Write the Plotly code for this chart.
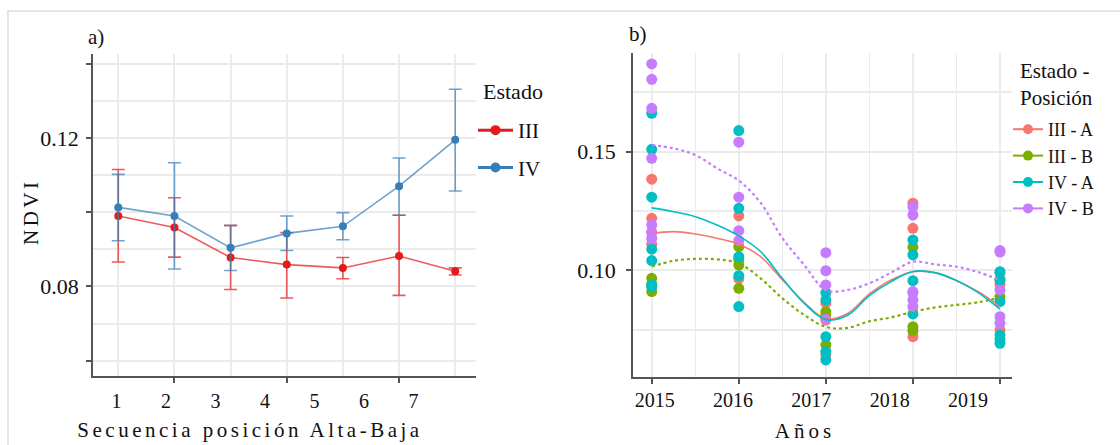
import plotly.graph_objects as go

W, H = 1120, 445
def fx(p):
    return p / W
def fy(p):
    return 1 - p / H

FONT = "Liberation Serif, Times New Roman, serif"

# ---------------- Panel a data ----------------
pos_a = [1, 2, 3, 4, 5, 6, 7]
pos_labels_a = ["1", "2", "3", "4", "5", "6", "7"]
estado = ["III", "IV"]
iii_mean = [0.0990, 0.0959, 0.0878, 0.0859, 0.0850, 0.0882, 0.0841]
iii_upper = [0.1115, 0.1039, 0.0964, 0.0945, 0.0878, 0.0992, 0.0850]
iii_lower = [0.0866, 0.0879, 0.0792, 0.0769, 0.0821, 0.0776, 0.0831]
iv_mean = [0.1013, 0.0990, 0.0904, 0.0943, 0.0962, 0.1070, 0.1195]
iv_upper = [0.1102, 0.1133, 0.0965, 0.0990, 0.0999, 0.1146, 0.1331]
iv_lower = [0.0923, 0.0847, 0.0843, 0.0897, 0.0926, 0.0992, 0.1057]
yticks_a = [0.06, 0.08, 0.10, 0.12, 0.14]
yticklabels_a = ["", "0.08", "", "0.12", ""]

# ---------------- Panel b data ----------------
years = [2015, 2016, 2017, 2018, 2019]
year_labels = ["2015", "2016", "2017", "2018", "2019"]
groups = ["III - A", "III - B", "IV - A", "IV - B"]
pts_iii_a = {2015: [0.1384, 0.1219, 0.1160, 0.1110], 2016: [0.1229, 0.0965],
             2017: [0.0862, 0.0790, 0.0643], 2018: [0.1283, 0.1177, 0.0905, 0.0720],
             2019: [0.0988, 0.0940, 0.0748]}
pts_iii_b = {2015: [0.0966, 0.0940, 0.0910], 2016: [0.1100, 0.1045, 0.1022, 0.0924],
             2017: [0.0825, 0.0810, 0.0685], 2018: [0.1097, 0.0762, 0.0745],
             2019: [0.0960, 0.0889]}
pts_iv_a = {2015: [0.1662, 0.1510, 0.1308, 0.1089, 0.1041, 0.0938, 0.0930],
            2016: [0.1589, 0.1261, 0.1057, 0.0977, 0.0847],
            2017: [0.0906, 0.0875, 0.0720, 0.0657, 0.0622],
            2018: [0.1128, 0.1065, 0.0956, 0.0816],
            2019: [0.0994, 0.0959, 0.0868, 0.0727, 0.0710, 0.0692]}
pts_iv_b = {2015: [0.1870, 0.1805, 0.1683, 0.1472, 0.1191, 0.1160, 0.1135],
            2016: [0.1540, 0.1308, 0.1167, 0.1125],
            2017: [0.1074, 0.0998, 0.0938, 0.0793],
            2018: [0.1268, 0.1233, 0.0910, 0.0875, 0.0847],
            2019: [0.1083, 0.1077, 0.0917, 0.0804, 0.0777]}
smooth_x = [2015, 2015.25, 2015.5, 2015.75, 2016, 2016.25, 2016.5, 2016.75, 2017,
            2017.25, 2017.5, 2017.75, 2018, 2018.25, 2018.5, 2018.75, 2019]
smooth_iii_a = [0.1156, 0.1163, 0.1153, 0.1135, 0.1110, 0.1058, 0.0960, 0.0865, 0.0795,
                0.0818, 0.0900, 0.0959, 0.0994, 0.0990, 0.0956, 0.0910, 0.0847]
smooth_iii_b = [0.1016, 0.1040, 0.1048, 0.1046, 0.1029, 0.0966, 0.0882, 0.0812, 0.0761,
                0.0757, 0.0785, 0.0801, 0.0825, 0.0843, 0.0854, 0.0865, 0.0885]
smooth_iv_a = [0.1263, 0.1247, 0.1226, 0.1191, 0.1145, 0.1079, 0.0966, 0.0861, 0.0792,
               0.0810, 0.0893, 0.0952, 0.0995, 0.0990, 0.0957, 0.0906, 0.0836]
smooth_iv_b = [0.1528, 0.1514, 0.1486, 0.1430, 0.1378, 0.1285, 0.1136, 0.1023, 0.0916,
               0.0917, 0.0945, 0.0990, 0.1036, 0.1025, 0.1015, 0.0992, 0.0959]
yticks_b = [0.10, 0.15]
yticklabels_b = ["0.10", "0.15"]

# ---------------- styles ----------------
col_a = {"III": "#E41A1C", "IV": "#377EB8"}
col_a_line = {"III": "rgba(228,26,28,0.72)", "IV": "rgba(55,126,184,0.72)"}
col_b = {"III - A": "#F8766D", "III - B": "#7CAE00", "IV - A": "#00BFC4", "IV - B": "#C77CFF"}
dash_b = {"III - A": "solid", "III - B": "dot", "IV - A": "solid", "IV - B": "dot"}
GRID = "#EBEBEB"
AX = "#555555"
TXT = "#111111"

fig = go.Figure()

# Panel a traces
for name, m, up, lo in [("III", iii_mean, iii_upper, iii_lower), ("IV", iv_mean, iv_upper, iv_lower)]:
    fig.add_trace(go.Scatter(
        x=pos_a, y=m, mode="lines+markers", showlegend=False,
        line=dict(color=col_a_line[name], width=1.6),
        marker=dict(color=col_a[name], size=8),
        error_y=dict(type="data", symmetric=False,
                     array=[u - v for u, v in zip(up, m)],
                     arrayminus=[v - l for v, l in zip(m, lo)],
                     color=col_a_line[name], thickness=1.6, width=6.5),
        xaxis="x", yaxis="y"))
for i, name in enumerate(estado):
    fig.add_trace(go.Scatter(
        x=[None], y=[None], mode="lines+markers", name=name, legend="legend",
        legendgroup="a%d" % i,
        line=dict(color=col_a[name], width=3), marker=dict(color=col_a[name], size=10),
        xaxis="x", yaxis="y"))

# Panel b traces
pts = {"III - A": pts_iii_a, "III - B": pts_iii_b, "IV - A": pts_iv_a, "IV - B": pts_iv_b}
for g in groups:
    xs, ys = [], []
    for yr in years:
        for v in pts[g][yr]:
            xs.append(yr)
            ys.append(v)
    fig.add_trace(go.Scatter(x=xs, y=ys, mode="markers", showlegend=False,
                             marker=dict(color=col_b[g], size=11),
                             xaxis="x2", yaxis="y2"))
smooth = {"III - A": smooth_iii_a, "III - B": smooth_iii_b, "IV - A": smooth_iv_a, "IV - B": smooth_iv_b}
for g in groups:
    fig.add_trace(go.Scatter(x=smooth_x, y=smooth[g], mode="lines", showlegend=False,
                             line=dict(color=col_b[g], width=1.6 if dash_b[g] == "solid" else 2.2,
                                       dash=dash_b[g], shape="spline"),
                             xaxis="x2", yaxis="y2"))
for g in groups:
    fig.add_trace(go.Scatter(x=[None], y=[None], mode="lines+markers", name=g, legend="legend2",
                             line=dict(color=col_b[g], width=2), marker=dict(color=col_b[g], size=10),
                             xaxis="x2", yaxis="y2"))

# label-axis helper traces
fig.add_trace(go.Scatter(x=[None], y=[None], xaxis="x3", yaxis="y3", showlegend=False, hoverinfo="skip"))
fig.add_trace(go.Scatter(x=[None], y=[None], xaxis="x4", yaxis="y4", showlegend=False, hoverinfo="skip"))

tickfont = dict(family=FONT, size=22, color=TXT)
common = dict(showline=True, linecolor=AX, linewidth=1.8, ticks="outside", ticklen=5,
              tickcolor=AX, tickwidth=1.5, showgrid=True, gridcolor=GRID, gridwidth=1.5,
              zeroline=False, tickfont=tickfont)

fig.update_layout(
    width=W, height=H, margin=dict(l=0, r=0, t=0, b=0),
    paper_bgcolor="white", plot_bgcolor="rgba(0,0,0,0)",
    font=dict(family=FONT, color=TXT),
    xaxis=dict(domain=[fx(93), fx(476)], range=[0.55, 7.37], anchor="y",
               tickvals=[2, 4, 6], showticklabels=False,
               minor=dict(tickvals=[1, 3, 5, 7], showgrid=True, gridcolor=GRID, gridwidth=1.5, ticks=""),
               **common),
    yaxis=dict(domain=[fy(376), fy(54)], range=[0.0559, 0.1426], anchor="x",
               tickvals=yticks_a, ticktext=yticklabels_a, ticklabelstandoff=3,
               minor=dict(tickvals=[0.07, 0.09, 0.11, 0.13], showgrid=True, gridcolor=GRID, gridwidth=1.5, ticks=""),
               **common),
    xaxis3=dict(domain=[fx(80), fx(420)], range=[0.2626, 7.131], anchor="y3",
                tickvals=pos_a, ticktext=pos_labels_a, ticks="", showline=False, showgrid=False,
                zeroline=False, tickfont=dict(family=FONT, size=20, color=TXT),
                ticklabelstandoff=11,
                title=dict(text='<span style="letter-spacing:3.5px">Secuencia posición Alta-Baja</span>',
                           font=dict(family=FONT, size=21), standoff=11)),
    yaxis3=dict(domain=[fy(376), fy(54)], anchor="x3", visible=False, range=[0, 1]),
    xaxis2=dict(domain=[fx(633), fx(1012)], range=[2014.785, 2019.138], anchor="y2",
                tickvals=years, showticklabels=False,
                minor=dict(tickvals=[2015.5, 2016.5, 2017.5, 2018.5], showgrid=True, gridcolor=GRID,
                           gridwidth=1.2, ticks=""),
                **common),
    yaxis2=dict(domain=[fy(377), fy(53)], range=[0.0550, 0.1916], anchor="x2",
                tickvals=yticks_b, ticktext=yticklabels_b, ticklabelstandoff=6,
                minor=dict(tickvals=[0.075, 0.125, 0.175], showgrid=True, gridcolor=GRID, gridwidth=1.5, ticks=""),
                **common),
    xaxis4=dict(domain=[fx(620), fx(990)], range=[2014.558, 2019.281], anchor="y4",
                tickvals=years, ticktext=year_labels, ticks="", showline=False, showgrid=False,
                zeroline=False, tickfont=dict(family=FONT, size=20, color=TXT),
                ticklabelstandoff=9,
                title=dict(text='<span style="letter-spacing:4px">Años</span>',
                           font=dict(family=FONT, size=21), standoff=13)),
    yaxis4=dict(domain=[fy(377), fy(53)], anchor="x4", visible=False, range=[0, 1]),
    legend=dict(x=fx(473), y=fy(110), xanchor="left", yanchor="top", itemwidth=35,
                font=dict(family=FONT, size=21), traceorder="grouped", tracegroupgap=7,
                bgcolor="rgba(0,0,0,0)"),
    legend2=dict(x=fx(1008), y=fy(111), xanchor="left", yanchor="top",
                 font=dict(family=FONT, size=18), bgcolor="rgba(0,0,0,0)"),
    showlegend=True,
    annotations=[
        dict(text="a)", x=fx(86), y=fy(37), xref="paper", yref="paper", xanchor="left",
             yanchor="middle", showarrow=False, font=dict(family=FONT, size=21)),
        dict(text="b)", x=fx(627), y=fy(34), xref="paper", yref="paper", xanchor="left",
             yanchor="middle", showarrow=False, font=dict(family=FONT, size=21)),
        dict(text='<span style="letter-spacing:3.5px">NDVI</span>', textangle=-90,
             x=fx(31), y=fy(212), xref="paper", yref="paper", xanchor="center",
             yanchor="middle", showarrow=False, font=dict(family=FONT, size=21)),
        dict(text="Estado", x=fx(481), y=fy(91), xref="paper", yref="paper", xanchor="left",
             yanchor="middle", showarrow=False, font=dict(family=FONT, size=22)),
        dict(text="Estado -<br>Posición", x=fx(1018), y=fy(84), xref="paper", yref="paper",
             xanchor="left", yanchor="middle", align="left", showarrow=False,
             font=dict(family=FONT, size=21)),
    ],
    shapes=[dict(type="rect", xref="paper", yref="paper", x0=fx(8), x1=fx(1130), y0=fy(460), y1=fy(11),
                 line=dict(color="#E6E6E6", width=2), fillcolor="rgba(0,0,0,0)", layer="below")],
)

fig.write_html("out.html")
